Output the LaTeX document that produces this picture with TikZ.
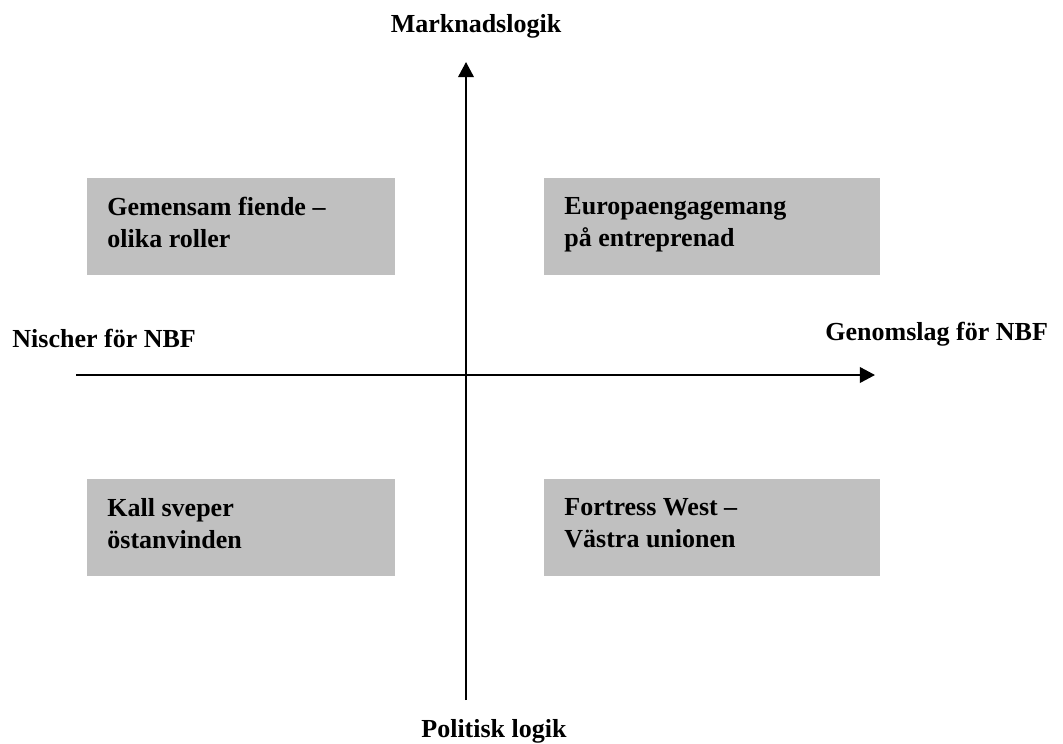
\documentclass[tikz,border=0pt]{standalone}
\usepackage{fontspec}
\setmainfont{Liberation Serif}
\usetikzlibrary{arrows.meta,positioning}
\definecolor{qgray}{HTML}{C0C0C0}
\tikzset{
  every picture/.append style={font=\fontsize{11.7}{14.4}\selectfont\bfseries},
  quad/.style     = {fill=qgray, anchor=north west, inner xsep=9pt, inner ysep=0pt,
                     minimum height=43.65pt, align=left,
                     execute at begin node={\spaceskip=0pt\xspaceskip=0pt\relax},
                     execute at end node=\strut},
  quadn/.style    = {quad, minimum width=138.6pt, text width=120.6pt},
  quadw/.style    = {quad, minimum width=151.2pt, text width=133.2pt},
  axis/.style     = {line width=0.9pt, -{Triangle[length=6.8pt,width=7pt]}},
  axlab/.style    = {inner sep=0pt, anchor=base},
}
\begin{document}
\begin{tikzpicture}[x=0.45pt,y=-0.45pt]
  \useasboundingbox (0,0) rectangle (1063,743);
  % quadrants
  \node[quadn] (gf) at (87,178)  {Gemensam fiende --\\olika roller};
  \node[quadw] (ep) at (544,178) {Europaengagemang\\på entreprenad};
  \node[quadn] (ks) at (87,479)  {Kall sveper\\östanvinden};
  \node[quadw] (fw) at (544,479) {Fortress West --\\Västra unionen};
  % axes
  \coordinate (vbot)  at (466,700);
  \coordinate (vtop)  at (466,62);
  \coordinate (hleft) at (76,375);
  \coordinate (hrght) at (875,375);
  \draw[axis] (vbot) -- (vtop);
  \draw[axis] (hleft) -- (hrght);
  \node[axlab] (mark) at (476,32)  {Marknadslogik};
  \node[axlab] (pol)  at (494,737) {Politisk logik};
  \node[axlab, anchor=base west] (nis) at (12,347)  {Nischer för NBF};
  \node[axlab, anchor=base west] (gen) at (825,340) {Genomslag för NBF};
\end{tikzpicture}
\end{document}
